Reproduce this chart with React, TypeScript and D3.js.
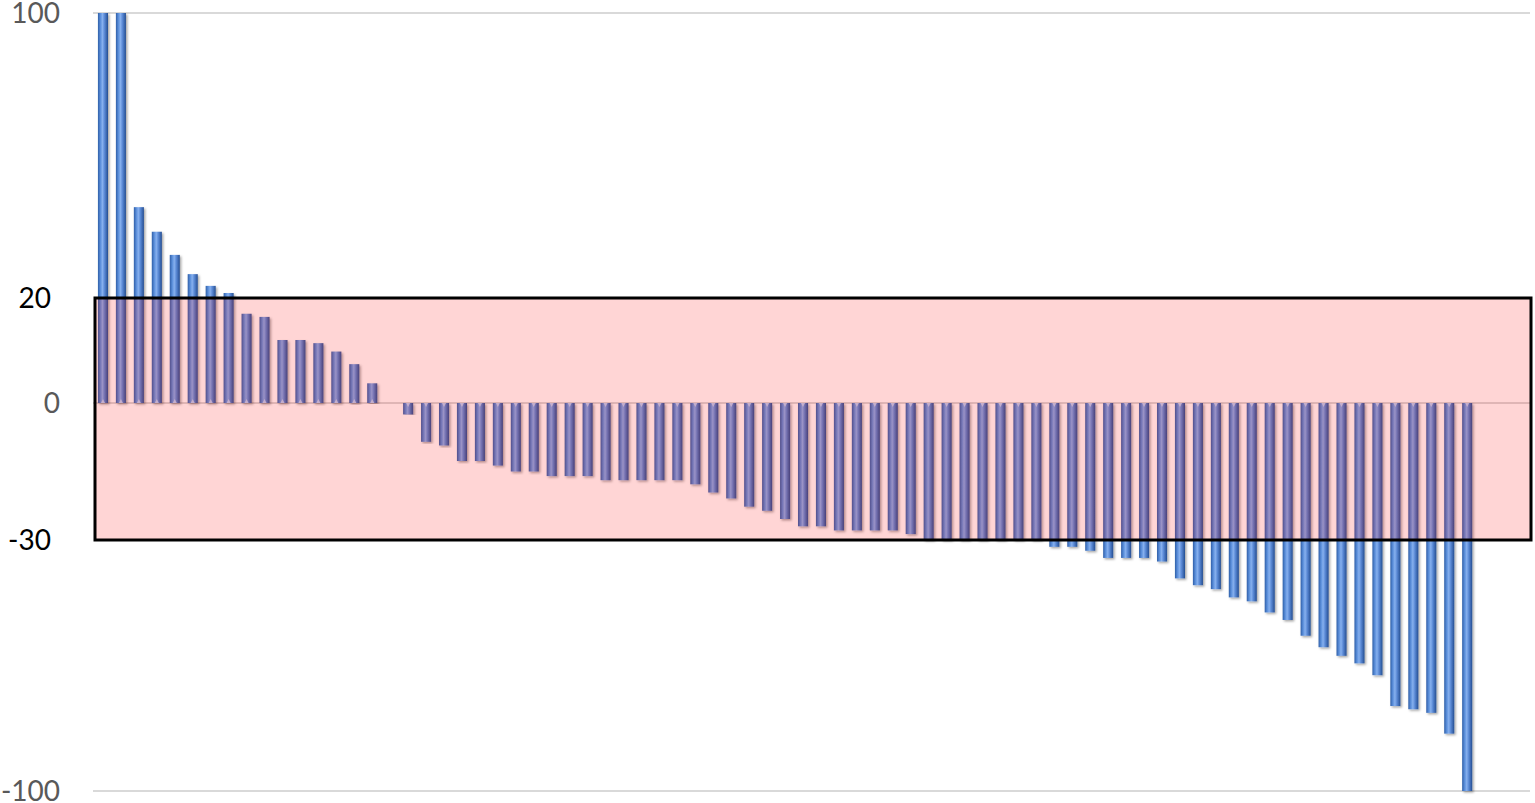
import React, { useRef, useEffect } from 'react';
import * as d3 from 'd3';

// percent change per patient, sorted (waterfall)
const changes = [
  100, 100, 45.5, 38.6, 32.1, 26.7, 23.4, 21.4, 17.0, 16.4, 12.0, 12.0, 11.4, 9.8, 7.4, 3.75, 0,
  -2.5, -8.5, -9.3, -12.7, -12.7, -13.7, -15.0, -15.0, -16.0, -16.0, -16.0, -16.9, -16.9, -16.9,
  -16.9, -16.9, -17.8, -19.6, -20.9, -22.7, -23.6,
  -25.4, -27.0, -27.0, -27.9, -27.9, -27.9, -27.9, -28.7, -30, -30, -30, -30, -30, -30, -30,
  -31.9, -31.9, -33.0, -35.0, -35.0, -35.0,
  -36.0, -40.7, -42.6, -43.7, -46.0, -47.1, -50.2, -52.3, -56.7, -59.9, -62.3, -64.4, -67.7,
  -76.3, -77.2, -78.2, -84.0, -100,
];
const slotCount = 80; // axis has room for 80 categories, last ones empty
const gridTicks = [100, 0, -100];
const boxTicks = [20, -30];
const yBreaks = [-100, -30, 0, 20, 100];

const W = 1535;
const H = 803;

const App = () => {
  const svgRef = useRef<SVGSVGElement>(null);

  useEffect(() => {
    const svg = d3.select(svgRef.current);
    svg.selectAll('*').remove();

    const x = d3.scaleBand<number>()
      .domain(d3.range(slotCount))
      .range([94, 1530])
      .paddingInner(0.44)
      .paddingOuter(0.22);

    // piecewise axis as drawn in the source figure
    const y = d3.scaleLinear()
      .domain(yBreaks)
      .range([791, 540, 403, 298, 13]);

    const defs = svg.append('defs');
    const grad = defs.append('linearGradient')
      .attr('id', 'barGrad')
      .attr('x1', '0%').attr('x2', '100%').attr('y1', '0%').attr('y2', '0%');
    [
      ['0%', '#2f5fa8'],
      ['25%', '#5b8fdb'],
      ['45%', '#86b0ee'],
      ['65%', '#5b8ad6'],
      ['100%', '#244e92'],
    ].forEach(([o, c]) => grad.append('stop').attr('offset', o).attr('stop-color', c));

    const shadow = defs.append('filter').attr('id', 'shadow')
      .attr('x', '-50%').attr('y', '-5%').attr('width', '200%').attr('height', '110%');
    shadow.append('feDropShadow')
      .attr('dx', 1.5).attr('dy', 1.5).attr('stdDeviation', 1)
      .attr('flood-color', '#000').attr('flood-opacity', 0.35);

    // gridlines
    svg.append('g')
      .selectAll('line')
      .data(gridTicks)
      .join('line')
      .attr('x1', 93)
      .attr('x2', 1530)
      .attr('y1', d => y(d))
      .attr('y2', d => y(d))
      .attr('stroke', '#d9d9d9')
      .attr('stroke-width', 2);

    // bars
    svg.append('g')
      .selectAll('rect')
      .data(changes)
      .join('rect')
      .attr('x', (d, i) => x(i)!)
      .attr('width', x.bandwidth())
      .attr('y', d => Math.min(y(d), y(0)))
      .attr('height', d => Math.abs(y(d) - y(0)))
      .attr('fill', 'url(#barGrad)')
      .attr('filter', 'url(#shadow)');

    // light cap at the zero end of each bar
    const w = x.bandwidth();
    svg.append('g')
      .selectAll('path')
      .data(changes.map((v, i) => ({ v, i })).filter(d => d.v !== 0))
      .join('path')
      .attr('d', d => {
        const xi = x(d.i)!;
        const y0 = y(0);
        const s = d.v > 0 ? -1 : 1;
        return `M${xi + w * 0.3},${y0} L${xi + w * 0.5},${y0 + s * 4} L${xi + w * 0.7},${y0} Z`;
      })
      .attr('fill', '#c9dcf7')
      .attr('opacity', 0.8);

    // response box overlay
    svg.append('rect')
      .attr('x', 95)
      .attr('width', 1531 - 95)
      .attr('y', y(20))
      .attr('height', y(-30) - y(20))
      .attr('fill', 'rgba(255,0,0,0.165)')
      .attr('stroke', '#000')
      .attr('stroke-width', 3);

    // axis labels
    svg.append('g')
      .selectAll('text')
      .data(gridTicks)
      .join('text')
      .attr('x', 60)
      .attr('y', d => y(d))
      .attr('dy', '0.36em')
      .attr('text-anchor', 'end')
      .attr('font-family', 'Lato, "Open Sans", sans-serif')
      .attr('font-size', 28)
      .attr('fill', '#595959')
      .text(d => String(d));

    svg.append('g')
      .selectAll('text')
      .data(boxTicks)
      .join('text')
      .attr('x', 51)
      .attr('y', d => y(d))
      .attr('dy', '0.36em')
      .attr('text-anchor', 'end')
      .attr('font-family', 'Lato, "Open Sans", sans-serif')
      .attr('font-size', 28)
      .attr('fill', '#000')
      .text(d => String(d));
  }, []);

  return (
    <div style={{ position: 'absolute', left: 0, top: 0, width: W, height: H, background: '#fff' }}>
      <svg ref={svgRef} width={W} height={H} />
    </div>
  );
};

export default App;
